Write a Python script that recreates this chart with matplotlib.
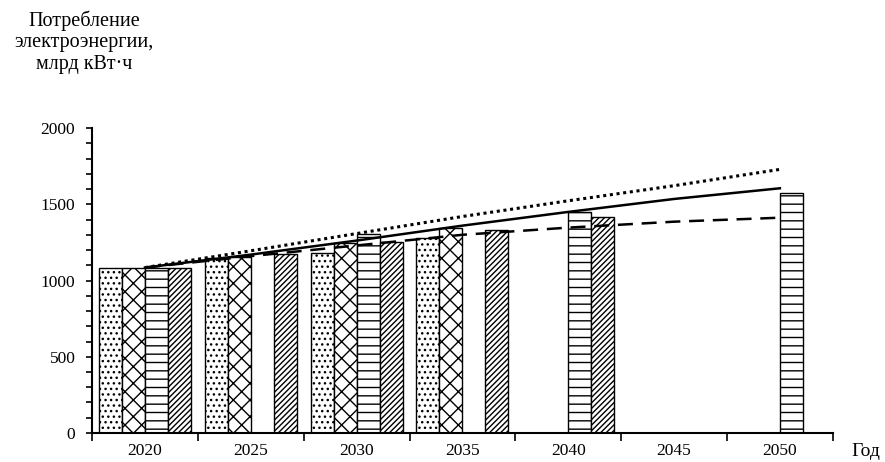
import matplotlib.pyplot as plt
import numpy as np
from matplotlib.ticker import MultipleLocator, FixedLocator, NullFormatter

plt.rcParams['font.family'] = ['Liberation Serif', 'DejaVu Serif']
plt.rcParams['hatch.linewidth'] = 1.0

years = ['2020', '2025', '2030', '2035', '2040', '2045', '2050']
nan = np.nan

# bar series (four scenarios), млрд кВт·ч
bars_dots = [1085, 1145, 1178, 1281, nan, nan, nan]
bars_cross = [1085, 1155, 1244, 1346, nan, nan, nan]
bars_horiz = [1085, nan, 1305, nan, 1451, nan, 1576]
bars_diag = [1085, 1172, 1250, 1331, 1418, nan, nan]

# forecast lines
line_dotted = [1085, 1195, 1308, 1420, 1523, 1622, 1729]
line_solid = [1085, 1170, 1262, 1360, 1450, 1535, 1605]
line_dashed = [1085, 1160, 1230, 1300, 1347, 1386, 1412]

fig = plt.figure(figsize=(8.85, 4.62), dpi=100)
ax = fig.add_axes([0.104, 0.0628, 0.837, 0.66])

x = np.arange(len(years))
w = 0.217
series = [(bars_dots, '...'), (bars_cross, 'xx'), (bars_horiz, '--'), (bars_diag, '//////')]
for i, (vals, hatch) in enumerate(series):
    ax.bar(x + (i - 1.5) * w, vals, width=w, color='white', edgecolor='black',
           linewidth=1.0, hatch=hatch, zorder=2)

ax.plot(x, line_dotted, color='black', linewidth=2.2, linestyle=(0, (1, 1.2)), zorder=3)
ax.plot(x, line_solid, color='black', linewidth=1.8, zorder=3)
ax.plot(x, line_dashed, color='black', linewidth=1.8, linestyle=(0, (6, 3.5)), zorder=3)

ax.set_xlim(-0.5, len(years) - 0.5)
ax.set_ylim(0, 2000)

ax.yaxis.set_major_locator(MultipleLocator(500))
ax.yaxis.set_minor_locator(MultipleLocator(100))
ax.tick_params(axis='y', which='both', direction='out', length=4, width=1.2,
               labelsize=12.5, pad=8)

ax.xaxis.set_major_locator(FixedLocator(np.arange(-0.5, len(years), 1.0)))
ax.xaxis.set_major_formatter(NullFormatter())
ax.xaxis.set_minor_locator(FixedLocator(x))
ax.set_xticklabels(years, minor=True)
ax.tick_params(axis='x', which='major', direction='out', length=6, width=1.2)
ax.tick_params(axis='x', which='minor', length=0, labelsize=12.5, pad=7)

for s in ['top', 'right']:
    ax.spines[s].set_visible(False)
for s in ['left', 'bottom']:
    ax.spines[s].set_linewidth(1.5)

fig.text(0.095, 0.978, 'Потребление\nэлектроэнергии,\nмлрд кВт·ч', ha='center', va='top',
         fontsize=14.5, linespacing=1.2)
fig.text(0.978, 0.022, 'Год', ha='center', va='center', fontsize=14)

fig.savefig('out.png', dpi=100)
